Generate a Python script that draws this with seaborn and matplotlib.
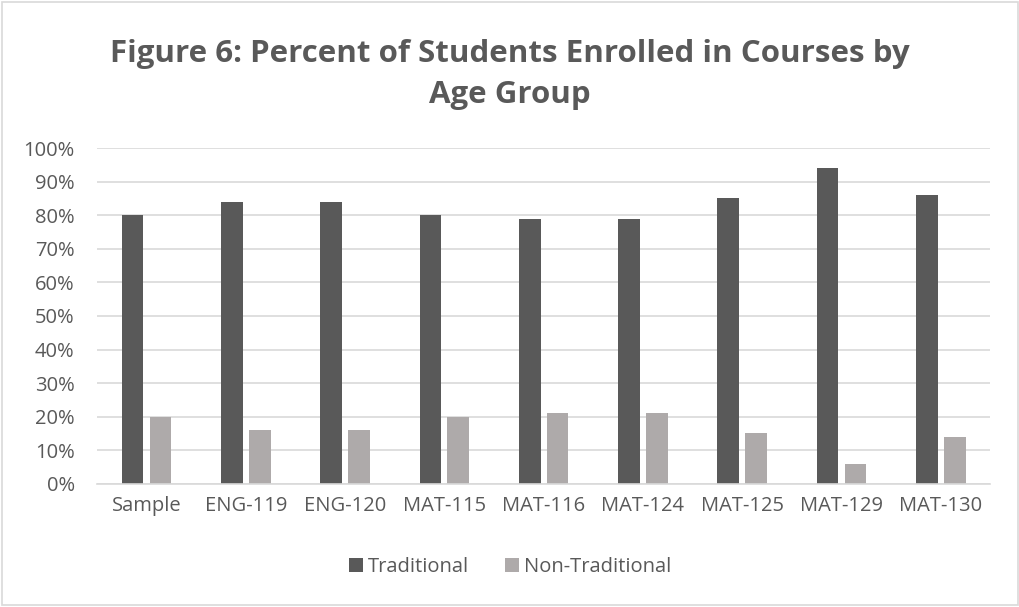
import matplotlib
matplotlib.use("Agg")
import matplotlib.pyplot as plt
import seaborn as sns
import pandas as pd
from matplotlib.patches import Rectangle

categories = ["Sample", "ENG-119", "ENG-120", "MAT-115", "MAT-116", "MAT-124", "MAT-125", "MAT-129", "MAT-130"]
traditional = [80, 84, 84, 80, 79, 79, 85, 94, 86]
non_traditional = [20, 16, 16, 20, 21, 21, 15, 6, 14]
series_names = ["Traditional", "Non-Traditional"]
yticks = [0, 10, 20, 30, 40, 50, 60, 70, 80, 90, 100]

df = pd.DataFrame({
    "Course": categories * 2,
    "Value": traditional + non_traditional,
    "Group": [series_names[0]] * len(categories) + [series_names[1]] * len(categories),
})

sns.set_theme(style="white")
plt.rcParams["font.family"] = ["Open Sans", "DejaVu Sans"]
text_color = "#595959"
grid_color = "#D9D9D9"

fig = plt.figure(figsize=(10.2, 6.07), dpi=100)
ax = fig.add_axes([0.095, 0.203, 0.876, 0.553])

sns.barplot(data=df, x="Course", y="Value", hue="Group", order=categories,
            hue_order=series_names, palette=["#595959", "#AEAAAA"],
            width=0.56, gap=0.22, linewidth=0, saturation=1, ax=ax, legend=True)

ax.set_ylim(0, 100)
ax.set_xlim(-0.5, len(categories) - 0.5)
ax.set_yticks(yticks)
ax.set_yticklabels([f"{v}%" for v in yticks])
ax.yaxis.grid(True, color=grid_color, linewidth=1.2)
ax.set_axisbelow(True)
for s in ["top", "right", "left"]:
    ax.spines[s].set_visible(False)
ax.spines["bottom"].set_color(grid_color)
ax.spines["bottom"].set_linewidth(1.2)
ax.tick_params(axis="both", length=0, labelsize=14.5, colors=text_color, pad=9)
ax.tick_params(axis="y", pad=16)
ax.set_xlabel("")
ax.set_ylabel("")

handles, labels = ax.get_legend_handles_labels()
ax.legend_.remove()
fig.legend(handles, labels, loc="center", bbox_to_anchor=(0.5, 0.066), ncol=2,
           frameon=False, fontsize=14.5, labelcolor=text_color,
           handlelength=0.7, handleheight=0.7, handletextpad=0.25, columnspacing=1.8)

fig.text(0.5, 0.877, "Figure 6: Percent of Students Enrolled in Courses by\nAge Group",
         ha="center", va="center", fontsize=22.5, fontweight="bold", color=text_color,
         linespacing=1.5)

fig.patches.append(Rectangle((0.002, 0.003), 0.996, 0.994, transform=fig.transFigure,
                             fill=False, edgecolor="#D9D9D9", linewidth=1.2))

fig.savefig("out.png", dpi=100)
